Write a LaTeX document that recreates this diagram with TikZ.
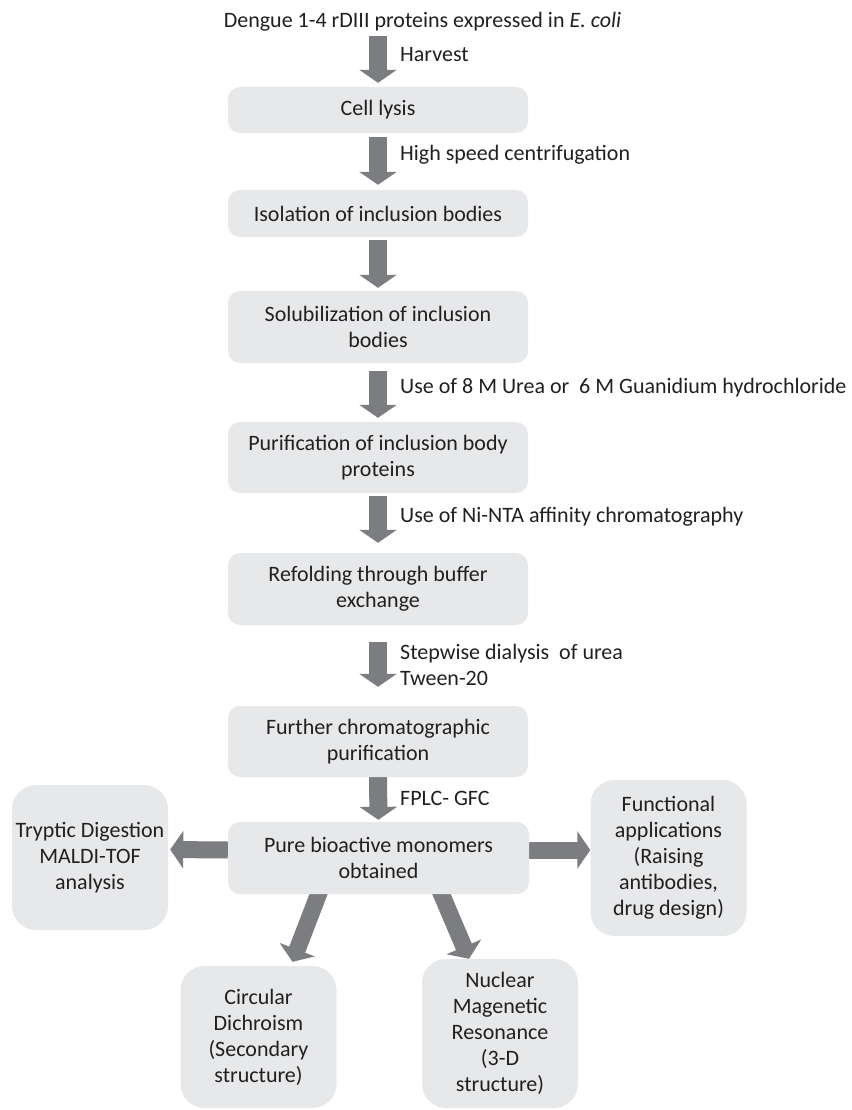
\documentclass[tikz,border=0pt]{standalone}
\usepackage{fontspec}
\setmainfont{Carlito}
\usetikzlibrary{arrows.meta,backgrounds}
\definecolor{boxgray}{RGB}{231,232,233}
\definecolor{arrowgray}{RGB}{124,125,129}
\definecolor{inkgray}{RGB}{35,31,32}

\begin{document}
\begin{tikzpicture}[x=1pt, y=-1pt,
    stage/.style={rectangle, rounded corners=12pt, fill=boxgray, text=inkgray, align=center,
        minimum width=300pt, inner sep=0pt, font=\fontsize{22}{26}\selectfont},
    side/.style={stage, rounded corners=24pt, minimum width=156pt},
    lbl/.style={anchor=west, inner sep=0pt, text=inkgray, align=left, font=\fontsize{22}{26}\selectfont},
    fat/.style={draw=arrowgray, line width=18pt, -{Triangle[width=37pt, length=13pt]}}]
    \useasboundingbox (0,0) rectangle (851,1110);

    \draw (422.5,22) node[lbl, anchor=center] (title) {Dengue 1-4 rDIII proteins expressed in \textit{E. coli}};
    \draw (378,110) node[stage, minimum height=46pt] (lysis) {Cell lysis};
    \draw (378,213.5) node[stage, minimum height=47pt] (isol) {Isolation of inclusion bodies};
    \draw (378,327) node[stage, minimum height=72pt] (solub) {Solubilization of inclusion\\bodies};
    \draw (378,457.5) node[stage, minimum height=71pt] (purif) {Purification of inclusion body\\proteins};
    \draw (378,589) node[stage, minimum height=72pt] (refold) {Refolding through buffer\\exchange};
    \draw (378,741.5) node[stage, minimum height=71pt] (further) {Further chromatographic\\purification};
    \draw (378.5,858) node[stage, minimum width=301pt, minimum height=72pt] (pure) {Pure bioactive monomers\\obtained};
    \draw (90,857.5) node[side, minimum height=145pt] (tryptic) {Tryptic Digestion\\MALDI-TOF\\analysis};
    \draw (668.5,858) node[side, minimum height=156pt] (func) {Functional\\applications\\(Raising\\antibodies,\\drug design)};
    \draw (258.5,1037) node[side, minimum height=142pt] (cd) {Circular\\Dichroism\\(Secondary\\structure)};
    \draw (500,1033.5) node[side, minimum height=149pt] (nmr) {Nuclear\\Magenetic\\Resonance\\(3-D\\structure)};

    \draw (400,55) node[lbl] (harvest) {Harvest};
    \draw (400,155) node[lbl] (spin) {High speed centrifugation};
    \draw (400,388) node[lbl] (urea) {Use of 8 M Urea or\ \ 6 M Guanidium hydrochloride};
    \draw (400,517) node[lbl] (nita) {Use of Ni-NTA affinity chromatography};
    \draw (400,665) node[lbl] (dialysis) {Stepwise dialysis\ \ of urea\\Tween-20};
    \draw (400,798) node[lbl] (fplc) {FPLC- GFC};

    \begin{scope}[on background layer]
    \draw[fat, shorten <=4pt, shorten >=4pt] (title.south -| lysis.north) -- (lysis.north);
    \draw[fat, shorten <=4pt, shorten >=5pt] (lysis) -- (isol);
    \draw[fat, shorten <=3pt, shorten >=3pt] (isol) -- (solub);
    \draw[fat, shorten <=8pt, shorten >=4pt] (solub) -- (purif);
    \draw[fat, shorten <=3pt, shorten >=10pt] (purif) -- (refold);
    \draw[fat, shorten <=17pt, shorten >=19pt] (refold) -- (further);
    \draw[fat, shorten >=2pt] (further) -- (pure);
    \draw[fat, line width=17pt, shorten >=2pt] ([yshift=8pt]pure.west) -- ([yshift=8pt]tryptic.east);
    \draw[fat, line width=17pt] ([yshift=8pt]pure.east) -- ([yshift=8pt]func.west);
    \draw[fat, line width=17pt, shorten <=-4pt] ([xshift=-60pt]pure.south) -- ([xshift=34pt, yshift=4pt]cd.north);
    \draw[fat, line width=17pt, shorten <=-4pt] ([xshift=63pt]pure.south) -- ([xshift=-31pt]nmr.north);
    \end{scope}
\end{tikzpicture}
\end{document}
